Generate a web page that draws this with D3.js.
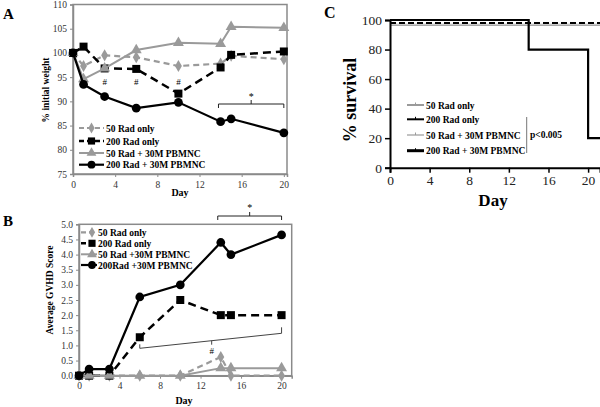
<!DOCTYPE html>
<html><head><meta charset="utf-8">
<script src="https://cdn.jsdelivr.net/npm/d3@7"></script>
<style>body{margin:0;background:#fff}svg{display:block}text{font-family:"Liberation Serif","Times New Roman",serif}</style>
</head><body><svg id="c" width="600" height="407"></svg>
<script>
// ---------- data ----------
const days = [0, 1, 3, 6, 10, 14, 15, 20];
const seriesNames = ["50 Rad only", "200 Rad only", "50 Rad + 30M PBMNC", "200 Rad + 30M PBMNC"];
const seriesNamesB = ["50 Rad only", "200 Rad only", "50 Rad +30M PBMNC", "200Rad +30M PBMNC"];
const weight50 = [100, 97.3, 99.5, 99.1, 97.3, 97.8, 99.4, 98.7];
const weight200 = [100, 101.3, 96.8, 96.7, 91.6, 97.0, 99.6, 100.3];
const weight50P = [100, 94.6, 96.8, 100.6, 102.1, 101.9, 105.4, 105.2];
const weight200P = [100, 93.5, 91.0, 88.6, 89.8, 85.8, 86.4, 83.5];
const gvhd50 = [0, 0, 0, 0, 0, 0.62, 0, 0];
const gvhd200 = [0, 0, 0, 1.27, 2.5, 2.0, 2.0, 2.0];
const gvhd50P = [0, 0, 0, 0, 0, 0.25, 0.25, 0.25];
const gvhd200P = [0, 0.22, 0.22, 2.6, 3.0, 4.4, 4.0, 4.65];
const weightTicks = [75, 80, 85, 90, 95, 100, 105, 110];
const gvhdTicks = [0, 0.5, 1, 1.5, 2, 2.5, 3, 3.5, 4, 4.5, 5];
const dayTicks = [0, 4, 8, 12, 16, 20];
const survTicks = [0, 20, 40, 60, 80, 100];
const signifDaysA = [3, 6, 10];
const survDays200P = [0, 14, 20, 21.2];
const surv200P = [100, 80, 20, 20];
const survDaysFlat = [0, 21.2];
const surv50 = [96.5, 96.5];
const surv200 = [98, 98];
const surv50P = [97.3, 97.3];

// ---------- styles ----------
const GRAY = "#9a9a9a";
const styles = [
  {color: GRAY, dash: "6,4", width: 2.2, sym: d3.symbolDiamond, size: 42},
  {color: "#000", dash: "8,5", width: 2.5, sym: d3.symbolSquare, size: 64},
  {color: GRAY, dash: null, width: 2, sym: d3.symbolTriangle, size: 52},
  {color: "#000", dash: null, width: 2.2, sym: d3.symbolCircle, size: 60}
];

const svg = d3.select("#c");
svg.append("rect").attr("width", 600).attr("height", 407).attr("fill", "#fff");

function panel(opts) {
  const g = svg.append("g");
  const x = d3.scaleLinear().domain(opts.xd).range(opts.xr);
  const y = d3.scaleLinear().domain(opts.yd).range(opts.yr);
  g.append("rect").attr("x", opts.xr[0]).attr("y", opts.yr[1]).attr("width", opts.xr[1]-opts.xr[0]).attr("height", opts.yr[0]-opts.yr[1])
    .attr("fill", "none").attr("stroke", "#8a8a8a").attr("stroke-width", 1.5);
  const ya = g.append("g").attr("transform", `translate(${opts.xr[0]},0)`)
    .call(d3.axisLeft(y).tickValues(opts.yTicks).tickSize(3).tickPadding(3).tickFormat(opts.yFmt));
  const xa = g.append("g").attr("transform", `translate(0,${opts.yr[0]})`)
    .call(d3.axisBottom(x).tickValues(dayTicks).tickSize(3).tickPadding(4));
  [ya, xa].forEach(a => {
    a.attr("font-family", "Liberation Serif");
    a.selectAll("path").attr("stroke", "#8a8a8a").attr("stroke-width", 1.5);
    a.selectAll("line").attr("stroke", "#8a8a8a");
    a.selectAll("text").attr("font-size", 9.5).attr("fill", "#333");
  });
  opts.series.forEach((vals, i) => {
    const st = styles[i];
    const pts = days.map((d, j) => [d, vals[j]]);
    g.append("path").attr("d", d3.line().x(p => x(p[0])).y(p => y(p[1]))(pts))
      .attr("fill", "none").attr("stroke", st.color).attr("stroke-width", st.width)
      .attr("stroke-dasharray", st.dash);
    g.selectAll(null).data(pts).enter().append("path")
      .attr("d", d3.symbol().type(st.sym).size(st.size))
      .attr("transform", p => `translate(${x(p[0])},${y(p[1])})`)
      .attr("fill", st.color);
  });
  return {g, x, y};
}

function bracket(g, x0, x1, yv, down, tipLen, star, starY) {
  const p = d3.path();
  p.moveTo(x0, yv + down); p.lineTo(x0, yv); p.lineTo(x1, yv); p.lineTo(x1, yv + down);
  p.moveTo((x0 + x1) / 2, yv); p.lineTo((x0 + x1) / 2, yv - tipLen);
  g.append("path").attr("d", p.toString()).attr("fill", "none").attr("stroke", "#222").attr("stroke-width", 1);
  g.append("text").attr("x", (x0 + x1) / 2).attr("y", starY).attr("text-anchor", "middle").attr("font-size", 10).text(star);
}
function legend(items, x0, x1, mx, tx, ys, fs) {
  items.forEach((name, i) => {
    const st = styles[i];
    svg.append("line").attr("x1", x0).attr("x2", x1).attr("y1", ys[i]).attr("y2", ys[i])
      .attr("stroke", st.color).attr("stroke-width", st.width).attr("stroke-dasharray", st.dash ? "5,3" : null);
    svg.append("path").attr("d", d3.symbol().type(st.sym).size(st.size * 0.8)).attr("transform", `translate(${mx},${ys[i]})`).attr("fill", st.color);
    svg.append("text").attr("x", tx).attr("y", ys[i] + 3.5).attr("font-size", fs).attr("font-weight", "bold").text(name);
  });
}

// ---------- Panel A ----------
const A = panel({xd: [0, 20.3], xr: [73, 287], yd: [75, 110], yr: [174, 4.5], yTicks: weightTicks, yFmt: d3.format("d"),
  series: [weight50, weight200, weight50P, weight200P]});
svg.append("text").attr("x", 3).attr("y", 19).attr("font-size", 15).attr("font-weight", "bold").text("A");
svg.append("text").attr("x", 180).attr("y", 196).attr("text-anchor", "middle").attr("font-size", 10).attr("font-weight", "bold").text("Day");
svg.append("text").attr("transform", "translate(49,90) rotate(-90)").attr("text-anchor", "middle").attr("font-size", 9.5).attr("font-weight", "bold").text("% initial weight");
signifDaysA.forEach(d => A.g.append("text").attr("x", A.x(d)).attr("y", 85).attr("text-anchor", "middle").attr("font-size", 9).text("#"));
bracket(A.g, A.x(13.8), A.x(20), 104, 4, 4, "*", 100);
legend(seriesNames, 79, 104, 91.5, 106, [128, 141, 153, 164.7], 9.5);

// ---------- Panel B ----------
const B = panel({xd: [0, 21], xr: [79, 291.7], yd: [0, 5], yr: [375.7, 224.3], yTicks: gvhdTicks, yFmt: d3.format(".1f"),
  series: [gvhd50, gvhd200, gvhd50P, gvhd200P]});
svg.append("text").attr("x", 3).attr("y", 226).attr("font-size", 15).attr("font-weight", "bold").text("B");
svg.append("text").attr("x", 184).attr("y", 404).attr("text-anchor", "middle").attr("font-size", 10).attr("font-weight", "bold").text("Day");
svg.append("text").attr("transform", "translate(53,290) rotate(-90)").attr("text-anchor", "middle").attr("font-size", 9.5).attr("font-weight", "bold").text("Average GVHD Score");
bracket(B.g, B.x(13.7), B.x(20), 216, 4, 4, "*", 211);
{
  const x0 = B.x(6), x1 = B.x(20), y0 = 348.3, y1 = 333.3;
  const p = d3.path();
  p.moveTo(x0, y0 - 4); p.lineTo(x0, y0); p.lineTo(x1, y1); p.lineTo(x1, y1 - 6);
  const xm = B.x(13.1), ym = y0 + (y1 - y0) * (xm - x0) / (x1 - x0);
  p.moveTo(xm, ym); p.lineTo(xm, ym + 4);
  B.g.append("path").attr("d", p.toString()).attr("fill", "none").attr("stroke", "#444").attr("stroke-width", 1);
  B.g.append("text").attr("x", xm).attr("y", 354).attr("text-anchor", "middle").attr("font-size", 9).text("#");
}
legend(seriesNamesB, 81, 97, 92, 98, [232.3, 243.3, 254.3, 265], 9.5);

// ---------- Panel C ----------
{
  const g = svg.append("g");
  const x = d3.scaleLinear().domain([0, 21.2]).range([390, 600]);
  const y = d3.scaleLinear().domain([0, 100]).range([167.7, 20]);
  const lines = [
    {d: survDaysFlat, v: surv50, color: "#a8a8a8", w: 1.8, dash: null},
    {d: survDaysFlat, v: surv50P, color: "#d8d8d8", w: 1.2, dash: null},
    {d: survDaysFlat, v: surv200, color: "#000", w: 2, dash: "6,3"},
    {d: survDays200P, v: surv200P, color: "#000", w: 2.2, dash: null}
  ];
  lines.forEach(s => {
    const pts = s.d.map((d, j) => [d, s.v[j]]);
    g.append("path").attr("d", d3.line().curve(d3.curveStepAfter).x(p => x(p[0])).y(p => y(p[1]))(pts))
      .attr("fill", "none").attr("stroke", s.color).attr("stroke-width", s.w).attr("stroke-dasharray", s.dash);
  });
  const ya = g.append("g").attr("transform", "translate(390,0)").call(d3.axisLeft(y).tickValues(survTicks).tickSize(5).tickPadding(3));
  const xa = g.append("g").attr("transform", "translate(0,167.7)").call(d3.axisBottom(x).tickValues(dayTicks).tickSize(5).tickPadding(3));
  [ya, xa].forEach(a => {
    a.attr("font-family", "Liberation Serif");
    a.selectAll("path").attr("stroke", "#000").attr("stroke-width", 2);
    a.selectAll("line").attr("stroke", "#000").attr("stroke-width", 1.5);
    a.selectAll("text").attr("font-size", 13.5).attr("fill", "#222");
  });
  svg.append("text").attr("x", 324).attr("y", 18).attr("font-size", 16).attr("font-weight", "bold").text("C");
  svg.append("text").attr("x", 493).attr("y", 206).attr("text-anchor", "middle").attr("font-size", 17).attr("font-weight", "bold").text("Day");
  svg.append("text").attr("transform", "translate(356,100) rotate(-90)").attr("text-anchor", "middle").attr("font-size", 18).attr("font-weight", "bold").text("% survival");
  const cst = [
    {color: "#9a9a9a", w: 2}, {color: "#000", w: 2}, {color: "#9a9a9a", w: 1.2}, {color: "#000", w: 3}
  ];
  const ys = [105, 119.3, 135, 150.7];
  seriesNames.forEach((name, i) => {
    svg.append("line").attr("x1", 407).attr("x2", 424).attr("y1", ys[i]).attr("y2", ys[i]).attr("stroke", cst[i].color).attr("stroke-width", cst[i].w);
    svg.append("line").attr("x1", 415.5).attr("x2", 415.5).attr("y1", ys[i] - 2.5).attr("y2", ys[i]).attr("stroke", cst[i].color).attr("stroke-width", 1);
    svg.append("text").attr("x", 426).attr("y", ys[i] + 3.5).attr("font-size", 9.5).attr("font-weight", "bold").text(name);
  });
  svg.append("line").attr("x1", 526.7).attr("x2", 526.7).attr("y1", 117).attr("y2", 153).attr("stroke", "#777").attr("stroke-width", 1);
  svg.append("text").attr("x", 530).attr("y", 138).attr("font-size", 9.5).attr("font-weight", "bold").text("p<0.005");
}
</script></body></html>
